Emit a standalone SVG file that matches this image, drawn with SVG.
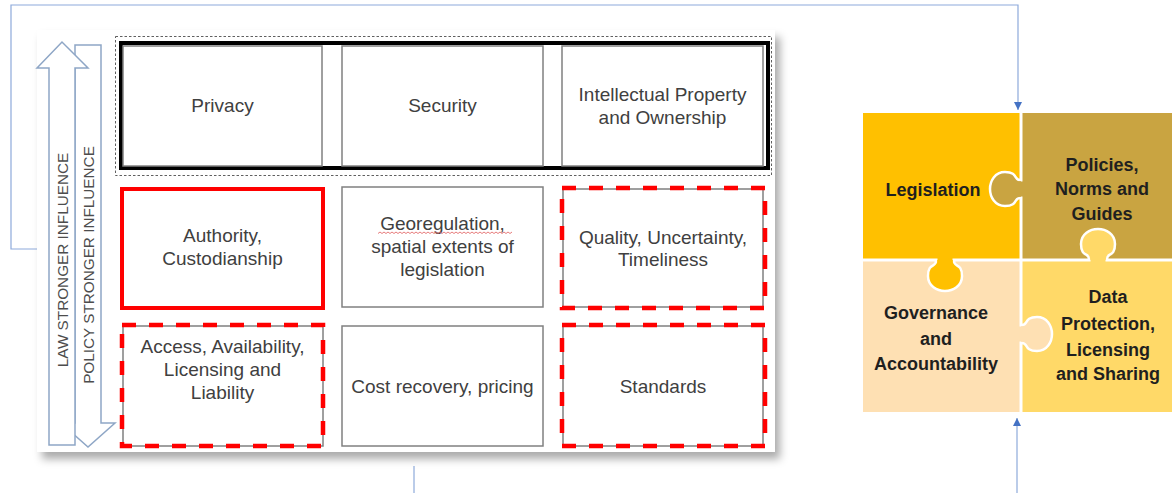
<svg xmlns="http://www.w3.org/2000/svg" width="1172" height="493" viewBox="0 0 1172 493">
  <defs>
    <style>
      .cell { fill: #ffffff; stroke: #808080; stroke-width: 1.5; }
      .red-solid { fill: none; stroke: #ff0000; stroke-width: 4; }
      .red-dash { fill: none; stroke: #ff0000; stroke-width: 4.5; stroke-dasharray: 14 13; }
      .lbl { font-family: "Liberation Sans", Arial, sans-serif; font-size: 19px; fill: #404040; text-anchor: middle; }
      .arrow-shape { fill: #ffffff; stroke: #8ea6c6; stroke-width: 1.5; stroke-linejoin: miter; }
      .arrow-lbl { font-family: "Liberation Sans", Arial, sans-serif; font-size: 15.3px; fill: #4d4d4d; text-anchor: middle; }
      .pz-lbl { font-family: "Liberation Sans", Arial, sans-serif; font-size: 18px; font-weight: bold; fill: #1f1f1f; text-anchor: middle; }
      .knob { stroke: #ffffff; stroke-width: 2.5; stroke-linejoin: round; }
      .link { fill: none; stroke: #8eaadb; stroke-width: 1.2; }
      .leg { fill: #ffc000; }
      .pol { fill: #c9a441; }
      .gov { fill: #fee0b3; }
      .dat { fill: #ffd968; }
    </style>
    <filter id="panelShadow" x="-5%" y="-5%" width="115%" height="115%">
      <feDropShadow dx="5" dy="7" stdDeviation="4" flood-color="#000000" flood-opacity="0.33"/>
    </filter>
    <marker id="tip" viewBox="0 0 10 10" refX="10" refY="5" markerWidth="8" markerHeight="8" markerUnits="userSpaceOnUse" orient="auto">
      <path d="M0,0 L10,5 L0,10 z" fill="#4472c4"/>
    </marker>
    <!-- puzzle knob pointing toward -x, seam at x=0 -->
    <path id="knobShape" d="M0,-9 C-8,-8 -2,-17 -16,-17 C-26,-17 -31,-8 -31,0 C-31,8 -26,17 -16,17 C-2,17 -8,8 0,9"/>
  </defs>

  <!-- connectors -->
  <g id="connectors">
    <path class="link" d="M37,249 H11 V5 H1018 V110" marker-end="url(#tip)"/>
    <path class="link" d="M1017,493 V418" marker-end="url(#tip)"/>
    <path class="link" d="M414,466 V493"/>
  </g>

  <!-- framework panel -->
  <g id="panel">
    <rect x="37" y="30" width="738" height="422" fill="#ffffff" filter="url(#panelShadow)"/>
  </g>

  <!-- influence arrows -->
  <g id="policy-arrow">
    <polygon class="arrow-shape" points="75,45 101,45 101,423 115,423 88,447 61,423 75,423"/>
  </g>
  <g id="law-arrow">
    <polygon class="arrow-shape" points="49,445 49,68 37,68 62,42 88,68 75,68 75,445"/>
    <text class="arrow-lbl" transform="translate(67.5,260) rotate(-90)">LAW STRONGER INFLUENCE</text>
    <text class="arrow-lbl" transform="translate(93.5,265) rotate(-90)">POLICY STRONGER INFLUENCE</text>
  </g>

  <!-- top row frame -->
  <g id="top-row-frame">
    <rect x="115.5" y="36.5" width="656" height="139" fill="none" stroke="#606060" stroke-width="1" stroke-dasharray="2.5 2"/>
    <rect x="121" y="43" width="647" height="125" fill="none" stroke="#000000" stroke-width="4"/>
  </g>

  <g id="privacy">
    <rect class="cell" x="123" y="46" width="199" height="120"/>
    <text class="lbl" x="222.5" y="112">Privacy</text>
  </g>
  <g id="security">
    <rect class="cell" x="342" y="46" width="201" height="120"/>
    <text class="lbl" x="442.5" y="112">Security</text>
  </g>
  <g id="intellectual-property">
    <rect class="cell" x="562" y="46" width="201" height="120"/>
    <text class="lbl" x="662.5" y="101">Intellectual Property</text>
    <text class="lbl" x="662.5" y="124">and Ownership</text>
  </g>

  <g id="authority">
    <rect class="cell" x="123" y="189" width="199" height="118"/>
    <rect class="red-solid" x="122" y="189" width="201" height="119"/>
    <text class="lbl" x="222.5" y="242">Authority,</text>
    <text class="lbl" x="222.5" y="265">Custodianship</text>
  </g>
  <g id="georegulation">
    <rect class="cell" x="342" y="187" width="201" height="120"/>
    <text class="lbl" x="442.5" y="230">Georegulation,</text>
    <path d="M378,233.5 l2,-1.5 l2,1.5 l2,-1.5 l2,1.5 l2,-1.5 l2,1.5 l2,-1.5 l2,1.5 l2,-1.5 l2,1.5 l2,-1.5 l2,1.5 l2,-1.5 l2,1.5 l2,-1.5 l2,1.5 l2,-1.5 l2,1.5 l2,-1.5 l2,1.5 l2,-1.5 l2,1.5 l2,-1.5 l2,1.5 l2,-1.5 l2,1.5 l2,-1.5 l2,1.5 l2,-1.5 l2,1.5 l2,-1.5 l2,1.5 l2,-1.5 l2,1.5 l2,-1.5 l2,1.5 l2,-1.5 l2,1.5 l2,-1.5 l2,1.5 l2,-1.5 l2,1.5 l2,-1.5 l2,1.5 l2,-1.5 l2,1.5 l2,-1.5 l2,1.5 l2,-1.5 l2,1.5 l2,-1.5 l2,1.5 l2,-1.5 l2,1.5 l2,-1.5 l2,1.5 l2,-1.5 l2,1.5 l2,-1.5 l2,1.5 l2,-1.5 l2,1.5 l2,-1.5 l2,1.5 l2,-1.5 l2,1.5 l2,-1.5" fill="none" stroke="#e05a5a" stroke-width="0.8"/>
    <text class="lbl" x="442.5" y="253">spatial extents of</text>
    <text class="lbl" x="442.5" y="276">legislation</text>
  </g>
  <g id="quality">
    <rect class="cell" x="563" y="189" width="200" height="118"/>
    <rect class="red-dash" x="562" y="188" width="203" height="120"/>
    <text class="lbl" x="663" y="244">Quality, Uncertainty,</text>
    <text class="lbl" x="663" y="266">Timeliness</text>
  </g>

  <g id="access">
    <rect class="cell" x="123" y="326" width="200" height="120"/>
    <rect class="red-dash" x="122" y="325" width="201" height="121"/>
    <text class="lbl" x="222.5" y="353">Access, Availability,</text>
    <text class="lbl" x="222.5" y="376">Licensing and</text>
    <text class="lbl" x="222.5" y="399">Liability</text>
  </g>
  <g id="cost-recovery">
    <rect class="cell" x="342" y="326" width="201" height="120"/>
    <text class="lbl" x="442.5" y="393">Cost recovery, pricing</text>
  </g>
  <g id="standards">
    <rect class="cell" x="563" y="326" width="200" height="120"/>
    <rect class="red-dash" x="562" y="325" width="203" height="121"/>
    <text class="lbl" x="663" y="393">Standards</text>
  </g>

  <!-- puzzle tiles -->
  <g id="legislation">
    <rect class="leg" x="863" y="113" width="156.5" height="145.5"/>
  </g>
  <g id="policies">
    <rect class="pol" x="1022.5" y="113" width="149.5" height="145.5"/>
  </g>
  <g id="governance">
    <rect class="gov" x="863" y="261.5" width="156.5" height="150.5"/>
  </g>
  <g id="data-protection">
    <rect class="dat" x="1022.5" y="261.5" width="149.5" height="150.5"/>
  </g>

  <!-- interlocking knobs -->
  <g id="knob-policies" transform="translate(1021,189)">
    <use href="#knobShape" class="knob pol"/>
    <rect class="pol" x="-2" y="-7.5" width="4" height="15"/>
  </g>
  <g id="knob-legislation" transform="translate(945,260) rotate(-90)">
    <use href="#knobShape" class="knob leg"/>
    <rect class="leg" x="-2" y="-7.5" width="4" height="15"/>
  </g>
  <g id="knob-data" transform="translate(1098,260) rotate(90)">
    <use href="#knobShape" class="knob dat"/>
    <rect class="dat" x="-2" y="-7.5" width="4" height="15"/>
  </g>
  <g id="knob-governance" transform="translate(1021,334) rotate(180)">
    <use href="#knobShape" class="knob gov"/>
    <rect class="gov" x="-2" y="-7.5" width="4" height="15"/>
  </g>

  <!-- puzzle labels -->
  <g id="puzzle-labels">
    <text class="pz-lbl" x="933" y="196">Legislation</text>
    <text class="pz-lbl" x="1102" y="171">Policies,</text>
    <text class="pz-lbl" x="1102" y="195">Norms and</text>
    <text class="pz-lbl" x="1102" y="220">Guides</text>
    <text class="pz-lbl" x="936" y="319">Governance</text>
    <text class="pz-lbl" x="936" y="345">and</text>
    <text class="pz-lbl" x="936" y="370">Accountability</text>
    <text class="pz-lbl" x="1108" y="303">Data</text>
    <text class="pz-lbl" x="1108" y="330">Protection,</text>
    <text class="pz-lbl" x="1108" y="356">Licensing</text>
    <text class="pz-lbl" x="1108" y="380">and Sharing</text>
  </g>
</svg>
